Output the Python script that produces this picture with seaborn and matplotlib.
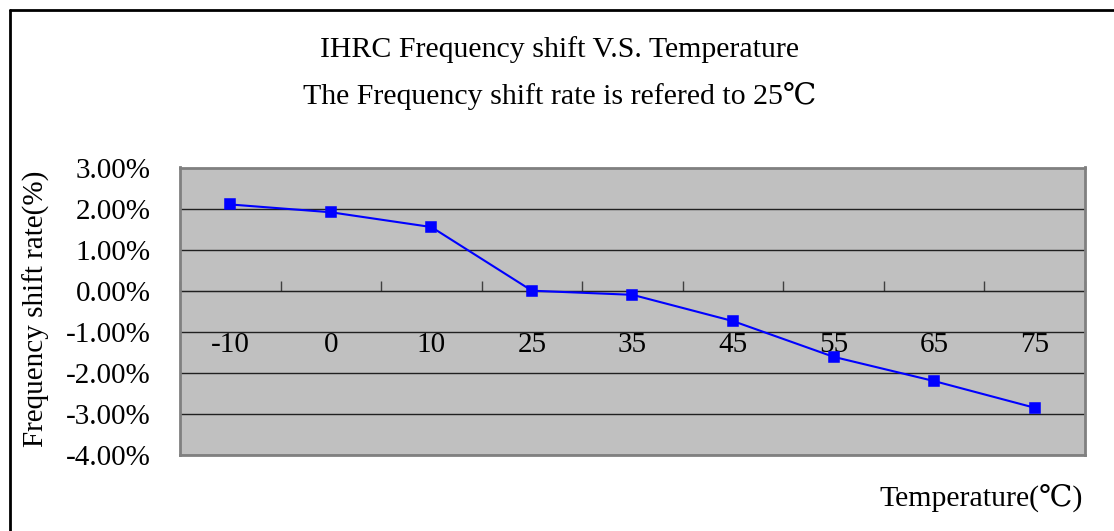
import numpy as np
import pandas as pd
import matplotlib.pyplot as plt
import matplotlib.ticker as mtick
from matplotlib.lines import Line2D
import seaborn as sns

temps = ['-10', '0', '10', '25', '35', '45', '55', '65', '75']
shift_rate = [2.10, 1.91, 1.55, 0.00, -0.10, -0.74, -1.61, -2.20, -2.85]

sns.set_style("white")
plt.rcParams['font.family'] = ['Liberation Serif', 'DejaVu Serif']
plt.rcParams['text.color'] = 'black'
plt.rcParams['xtick.color'] = 'black'
plt.rcParams['ytick.color'] = 'black'

fs = 21
fig = plt.figure(figsize=(11.14, 5.31), dpi=100)
ax = fig.add_axes([180/1114, 1 - 455/531, 905/1114, (455 - 167.5)/531])

df = pd.DataFrame({'temp': temps, 'rate': shift_rate})
sns.pointplot(data=df, x='temp', y='rate', order=temps, color='#0000ff',
              markers='s', markersize=7, linewidth=1.5, errorbar=None, ax=ax)

ax.set_facecolor('#c0c0c0')
ax.set_ylim(-4, 3)
ax.set_xlim(-0.5, len(temps) - 0.5)
ax.yaxis.set_major_locator(mtick.MultipleLocator(1))
ax.yaxis.set_major_formatter(mtick.FuncFormatter(lambda y, pos: '{:.2f}%'.format(y)))
ax.grid(axis='y', color='#202020', linewidth=1.0)
ax.set_axisbelow(True)
for s in ax.spines.values():
    s.set_color('#808080')
    s.set_linewidth(2)
ax.tick_params(axis='y', labelsize=fs, direction='in', length=6, color='#404040', labelcolor='black', pad=21)
ax.set_xticks([])
ax.set_xlabel('')
ax.set_ylabel('')

# category axis crossing at 0%
sec = ax.secondary_xaxis(4/7)
sec.xaxis.set_ticks_position('bottom')
sec.set_xticks(range(len(temps)))
sec.set_xticklabels(temps)
sec.set_xticks(np.arange(-0.5, len(temps)), minor=True)
sec.tick_params(axis='x', which='major', length=0, labelsize=fs, labelcolor='black', pad=30)
sec.tick_params(axis='x', which='minor', direction='in', length=7, color='#404040', width=1)
sec.spines['bottom'].set_color('#606060')
sec.spines['bottom'].set_linewidth(2)

fig.text(560/1114, 1 - 50/531, 'IHRC Frequency shift V.S. Temperature', ha='center', va='center', fontsize=21.5)
fig.text(560/1114, 1 - 96/531, 'The Frequency shift rate is refered to 25\u2103', ha='center', va='center', fontsize=21.5)
fig.text(36/1114, 1 - 309/531, 'Frequency shift rate(%)', rotation=90, ha='center', va='center', fontsize=fs)
fig.text(1083/1114, 1 - 498/531, 'Temperature(\u2103)', ha='right', va='center', fontsize=21.5)

# outer border (top and left visible)
fig.add_artist(Line2D([10/1114, 10/1114], [0, 1 - 10/531], color='black', linewidth=2, transform=fig.transFigure))
fig.add_artist(Line2D([10/1114, 1], [1 - 10/531, 1 - 10/531], color='black', linewidth=2, transform=fig.transFigure))

fig.savefig('out.png', dpi=100, facecolor='white')
